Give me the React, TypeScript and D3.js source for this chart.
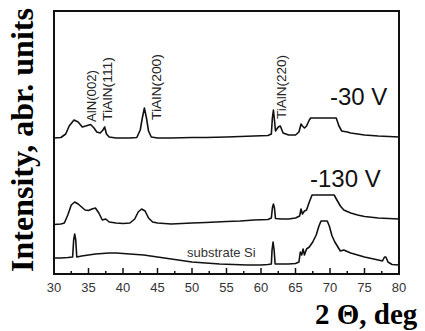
import React, { useEffect, useRef } from 'react';
import * as d3 from 'd3';

// 2 theta (deg) and intensity (arb. units)
const siAngle = [30, 31, 32, 32.7, 32.85, 33.0, 33.15, 33.3, 34, 35, 36, 37, 38, 39, 40, 41, 42, 43, 44, 45, 46, 47, 48, 49, 50, 52, 54, 56, 58, 60, 61, 61.5, 61.6, 61.75, 61.9, 62.05, 63, 64, 65, 65.5, 65.7, 65.9, 66.1, 66.3, 66.6, 67, 67.5, 68, 68.4, 68.7, 69.6, 69.9, 70.3, 70.7, 71.5, 72, 73, 74, 75, 76, 77, 77.6, 77.9, 78.1, 78.4, 79, 80];
const siValue = [16, 16, 16.5, 17, 34, 40, 34, 17, 18, 19, 20, 20.5, 21, 21, 20.5, 20, 19.5, 19, 18, 17, 16, 15, 14, 13, 12, 11, 10, 9.5, 9, 9, 9.5, 10, 24, 32, 24, 10, 10, 10, 10.5, 12, 22, 19, 25, 19, 25, 27, 32, 39, 48, 53, 53, 48, 38, 32, 23, 24, 21, 19, 17, 15.5, 14, 13, 17, 17, 12, 9.5, 9];

const v130Angle = [30, 31, 31.5, 32, 32.5, 33, 33.5, 34, 34.5, 35, 35.5, 36, 36.5, 37, 37.5, 38, 39, 40, 41, 41.7, 42.2, 42.7, 43.2, 43.7, 44.3, 45, 47, 50, 52, 55, 57, 59, 61, 61.5, 61.65, 61.8, 61.95, 62.1, 63, 64, 65, 65.6, 65.8, 66.0, 66.3, 66.6, 67, 67.4, 70.6, 71, 71.5, 72, 73, 74, 75, 77, 80];
const v130Value = [49.5, 50, 51, 59, 69, 72, 70, 67, 64, 63.5, 65, 66, 61, 54, 55, 52, 51, 50.5, 51, 55, 62, 65, 63, 56, 52, 51, 50, 51, 51.5, 52.5, 53, 54, 54.5, 56, 66, 70, 66, 55.5, 55, 55, 56, 58, 65, 60, 63, 64, 72, 79, 79, 74, 68, 64, 61, 59, 57.5, 56, 55];

const v30Angle = [30, 31, 31.7, 32.2, 32.9, 33.5, 34.1, 34.6, 35.3, 35.8, 36.2, 36.7, 37.1, 37.35, 37.6, 38, 39, 40, 41, 42, 42.5, 42.8, 43.1, 43.4, 43.7, 44.1, 45, 47, 50, 52, 55, 57, 59, 61, 61.5, 61.65, 61.8, 61.95, 62.1, 62.5, 62.8, 63.2, 64, 65, 65.5, 65.8, 66.0, 66.3, 66.6, 67, 67.2, 70.9, 71.3, 71.7, 72.5, 73, 74, 75, 77, 80];
const v30Value = [136, 136.5, 140, 148, 154, 152, 147, 148, 149.5, 146, 142, 141, 144, 147, 140, 137, 136, 136, 136, 136.5, 144, 156, 166, 156, 143, 137, 136, 136, 136.5, 136.5, 137, 137.5, 138, 138.5, 140, 156, 164, 154, 143, 147, 148, 141, 139, 139, 142, 150, 148, 146, 148, 154, 156, 156, 148, 143, 142, 141, 140, 139, 138, 137];

const xTicks = d3.range(30, 80.1, 2.5);

const peakLabels = [
  { text: 'AlN(002)', x: 96, y: 122, len: 52 },
  { text: 'TiAlN(111)', x: 112, y: 121, len: 64 },
  { text: 'TiAlN(200)', x: 161, y: 120, len: 66 },
  { text: 'TiAlN(220)', x: 286, y: 119, len: 64 },
];
const seriesLabels = [
  { text: '-30 V', x: 330, y: 105 },
  { text: '-130 V', x: 310, y: 187 },
];

export default function App() {
  const ref = useRef<SVGSVGElement>(null);

  useEffect(() => {
    const svg = d3.select(ref.current);
    svg.selectAll('*').remove();

    const left = 54, right = 399, top = 11, bottom = 274;
    const x = d3.scaleLinear().domain([30, 80]).range([left, right]);
    const y = d3.scaleLinear().domain([0, 263]).range([bottom, top]);

    const line = d3.line<[number, number]>()
      .x(d => x(d[0]))
      .y(d => y(d[1]));

    const traces = [
      d3.zip(siAngle, siValue),
      d3.zip(v130Angle, v130Value),
      d3.zip(v30Angle, v30Value),
    ];

    svg.selectAll('path.trace')
      .data(traces)
      .enter()
      .append('path')
        .attr('class', 'trace')
        .attr('d', d => line(d as [number, number][]))
        .attr('fill', 'none')
        .attr('stroke', '#111')
        .attr('stroke-width', 1.6)
        .attr('stroke-linejoin', 'round');

    // frame
    svg.append('rect')
      .attr('x', left).attr('y', top)
      .attr('width', right - left).attr('height', bottom - top)
      .attr('fill', 'none')
      .attr('stroke', '#111')
      .attr('stroke-width', 2);

    // inward ticks on the bottom axis
    svg.selectAll('line.tick')
      .data(xTicks.slice(1, -1))
      .enter()
      .append('line')
        .attr('class', 'tick')
        .attr('x1', d => x(d)).attr('x2', d => x(d))
        .attr('y1', bottom)
        .attr('y2', d => bottom - (d % 5 === 0 ? 6 : 3))
        .attr('stroke', '#111')
        .attr('stroke-width', 1.5);

    svg.selectAll('text.tlabel')
      .data(xTicks.filter(d => d % 5 === 0))
      .enter()
      .append('text')
        .attr('class', 'tlabel')
        .attr('x', d => x(d))
        .attr('y', 292)
        .attr('text-anchor', 'middle')
        .attr('font-family', 'Liberation Sans, Arial, sans-serif')
        .attr('font-size', 13)
        .attr('fill', '#333')
        .text(d => d);

    svg.selectAll('text.peak')
      .data(peakLabels)
      .enter()
      .append('text')
        .attr('class', 'peak')
        .attr('transform', d => `translate(${d.x},${d.y}) rotate(-90)`)
        .attr('font-family', 'Liberation Sans, Arial, sans-serif')
        .attr('font-size', 12)
        .attr('fill', '#222')
        .attr('textLength', d => d.len)
        .attr('lengthAdjust', 'spacingAndGlyphs')
        .text(d => d.text);

    svg.selectAll('text.series')
      .data(seriesLabels)
      .enter()
      .append('text')
        .attr('class', 'series')
        .attr('x', d => d.x)
        .attr('y', d => d.y)
        .attr('font-family', 'Liberation Sans, Arial, sans-serif')
        .attr('font-size', 24)
        .attr('fill', '#111')
        .text(d => d.text);

    svg.append('text')
      .attr('x', 187).attr('y', 257)
      .attr('font-family', 'Liberation Sans, Arial, sans-serif')
      .attr('font-size', 13)
      .attr('fill', '#333')
      .text('substrate Si');

    // axis titles
    svg.append('text')
      .attr('transform', 'translate(33,140) rotate(-90)')
      .attr('text-anchor', 'middle')
      .attr('font-family', 'Liberation Serif, Times New Roman, serif')
      .attr('font-weight', 'bold')
      .attr('font-size', 32)
      .attr('fill', '#000')
      .text('Intensity, abr. units');

    svg.append('text')
      .attr('x', 315).attr('y', 324)
      .attr('font-family', 'Liberation Serif, Times New Roman, serif')
      .attr('font-weight', 'bold')
      .attr('font-size', 29)
      .attr('fill', '#000')
      .text('2 Θ, deg');
  }, []);

  return (
    <svg ref={ref} width={425} height={331}
      style={{ position: 'absolute', left: 0, top: 0, background: '#fff' }} />
  );
}
